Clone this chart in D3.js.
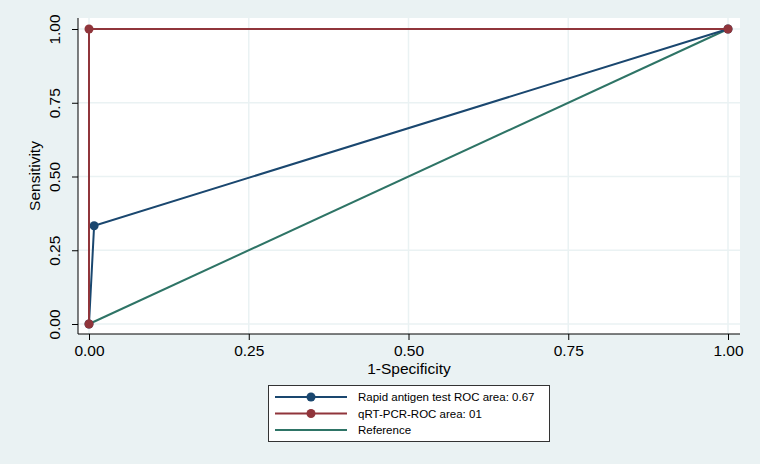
<!DOCTYPE html>
<html><head><meta charset="utf-8">
<script src="https://cdn.jsdelivr.net/npm/d3@7"></script>
<style>body{margin:0;background:#fff}svg{display:block}text{font-family:"Liberation Sans",Arial,sans-serif}</style>
</head><body><svg id="c" width="762" height="466"></svg>
<script>
const ticks = [0, 0.25, 0.5, 0.75, 1];
const rapidX = [0, 0.008, 1];
const rapidY = [0, 0.333, 1];
const pcrX = [0, 0, 1];
const pcrY = [0, 1, 1];
const refX = [0, 1];
const refY = [0, 1];
const legendLabels = ["Rapid antigen test ROC area: 0.67", "qRT-PCR-ROC area: 01", "Reference"];
const colors = ["#1a476f", "#90353b", "#2e7466"];

const svg = d3.select("#c");
svg.append("rect").attr("x",0).attr("y",0).attr("width",760).attr("height",464).attr("fill","#eaf2f3");
const x = d3.scaleLinear().domain([0,1]).range([89,728]);
const y = d3.scaleLinear().domain([0,1]).range([324,29]);
const L=78,R=740,T=18,B=334;
svg.append("rect").attr("x",L).attr("y",T).attr("width",R-L).attr("height",B-T).attr("fill","#fff");
ticks.forEach(t=>{
  svg.append("line").attr("x1",L).attr("x2",R).attr("y1",y(t)).attr("y2",y(t)).attr("stroke","#eaf2f3").attr("stroke-width",1.5);
  svg.append("line").attr("y1",T).attr("y2",B).attr("x1",x(t)).attr("x2",x(t)).attr("stroke","#eaf2f3").attr("stroke-width",1.5);
});
const xa = svg.append("g").attr("transform",`translate(0,${B})`).call(d3.axisBottom(x).tickValues(ticks).tickFormat(d3.format(".2f")).tickSize(6).tickSizeOuter(0).tickPadding(5));
const ya = svg.append("g").attr("transform",`translate(${L},0)`).call(d3.axisLeft(y).tickValues(ticks).tickFormat(d3.format(".2f")).tickSize(6).tickSizeOuter(0));
[xa,ya].forEach(a=>{a.select(".domain").remove();a.selectAll("line").attr("stroke","#000");a.selectAll("text").attr("font-size",15.5).attr("fill","#000").attr("font-family","Liberation Sans, Arial, sans-serif");});
ya.selectAll(".tick").each(function(){d3.select(this).select("text").attr("x",null).attr("y",null).attr("transform","translate(-18,0) rotate(-90)").attr("text-anchor","middle").attr("dy","0");});
svg.append("line").attr("x1",L).attr("x2",R).attr("y1",B).attr("y2",B).attr("stroke","#000");
svg.append("line").attr("x1",L).attr("x2",L).attr("y1",T).attr("y2",B).attr("stroke","#000");
svg.append("text").attr("x",409).attr("y",374).attr("text-anchor","middle").attr("font-size",15.5).text("1-Specificity");
svg.append("text").attr("transform","translate(40,176) rotate(-90)").attr("text-anchor","middle").attr("font-size",15.5).text("Sensitivity");
const line = d3.line().x(d=>x(d[0])).y(d=>y(d[1]));
const series = [
  {xs:refX, ys:refY, c:colors[2], m:false},
  {xs:rapidX, ys:rapidY, c:colors[0], m:true},
  {xs:pcrX, ys:pcrY, c:colors[1], m:true}
];
series.forEach(s=>{
  const pts = s.xs.map((v,i)=>[v,s.ys[i]]);
  svg.append("path").attr("d",line(pts)).attr("fill","none").attr("stroke",s.c).attr("stroke-width",2);
  if(s.m) svg.selectAll(null).data(pts).enter().append("circle").attr("cx",d=>x(d[0])).attr("cy",d=>y(d[1])).attr("r",4.5).attr("fill",s.c);
});
svg.append("rect").attr("x",268.5).attr("y",385.5).attr("width",281).attr("height",56).attr("fill","#fff").attr("stroke","#333").attr("stroke-width",1);
legendLabels.forEach((t,i)=>{
  const yy = 397+i*16.5;
  svg.append("line").attr("x1",275).attr("x2",347).attr("y1",yy).attr("y2",yy).attr("stroke",colors[i]).attr("stroke-width",2);
  if(i<2) svg.append("circle").attr("cx",311).attr("cy",yy).attr("r",4.5).attr("fill",colors[i]);
  svg.append("text").attr("x",358).attr("y",yy+4).attr("font-size",11.5).text(t);
});
</script></body></html>
